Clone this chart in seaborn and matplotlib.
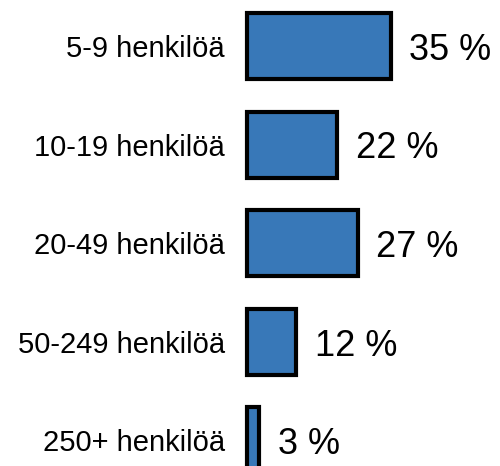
import pandas as pd
import seaborn as sns
import matplotlib.pyplot as plt

sns.set_style("white")
plt.rcParams["font.family"] = ["Liberation Sans", "DejaVu Sans"]
plt.rcParams["text.color"] = "black"
plt.rcParams["ytick.color"] = "black"

# Company size categories and share of respondents (%)
categories = ["5-9 henkilöä", "10-19 henkilöä", "20-49 henkilöä",
              "50-249 henkilöä", "250+ henkilöä"]
shares = [35, 22, 27, 12, 3]
value_labels = [f"{v} %" for v in shares]

df = pd.DataFrame({"size": categories, "share": shares})

fig = plt.figure(figsize=(5, 4.66), dpi=100)
ax = fig.add_axes([0.494, 0, 0.506, 1])

sns.barplot(data=df, y="size", x="share", orient="h", color="#3878B8",
            saturation=1, edgecolor="black", linewidth=3, width=0.67, ax=ax)

for p in ax.patches:
    p.set_clip_on(False)

texts = ax.bar_label(ax.containers[0], labels=value_labels, padding=11,
                     fontsize=26, color="black")
for t in texts:
    t.set_va("center")
    t.xyann = (13.5, -3)

ax.set_xlim(0, 61.7)
ax.set_ylim(4.26, -0.47)
ax.set_xlabel("")
ax.set_ylabel("")
ax.set_xticks([])
ax.tick_params(axis="y", length=0, pad=16, labelsize=21, labelcolor="black")
sns.despine(ax=ax, left=True, bottom=True)

plt.savefig("out.png", dpi=100)
